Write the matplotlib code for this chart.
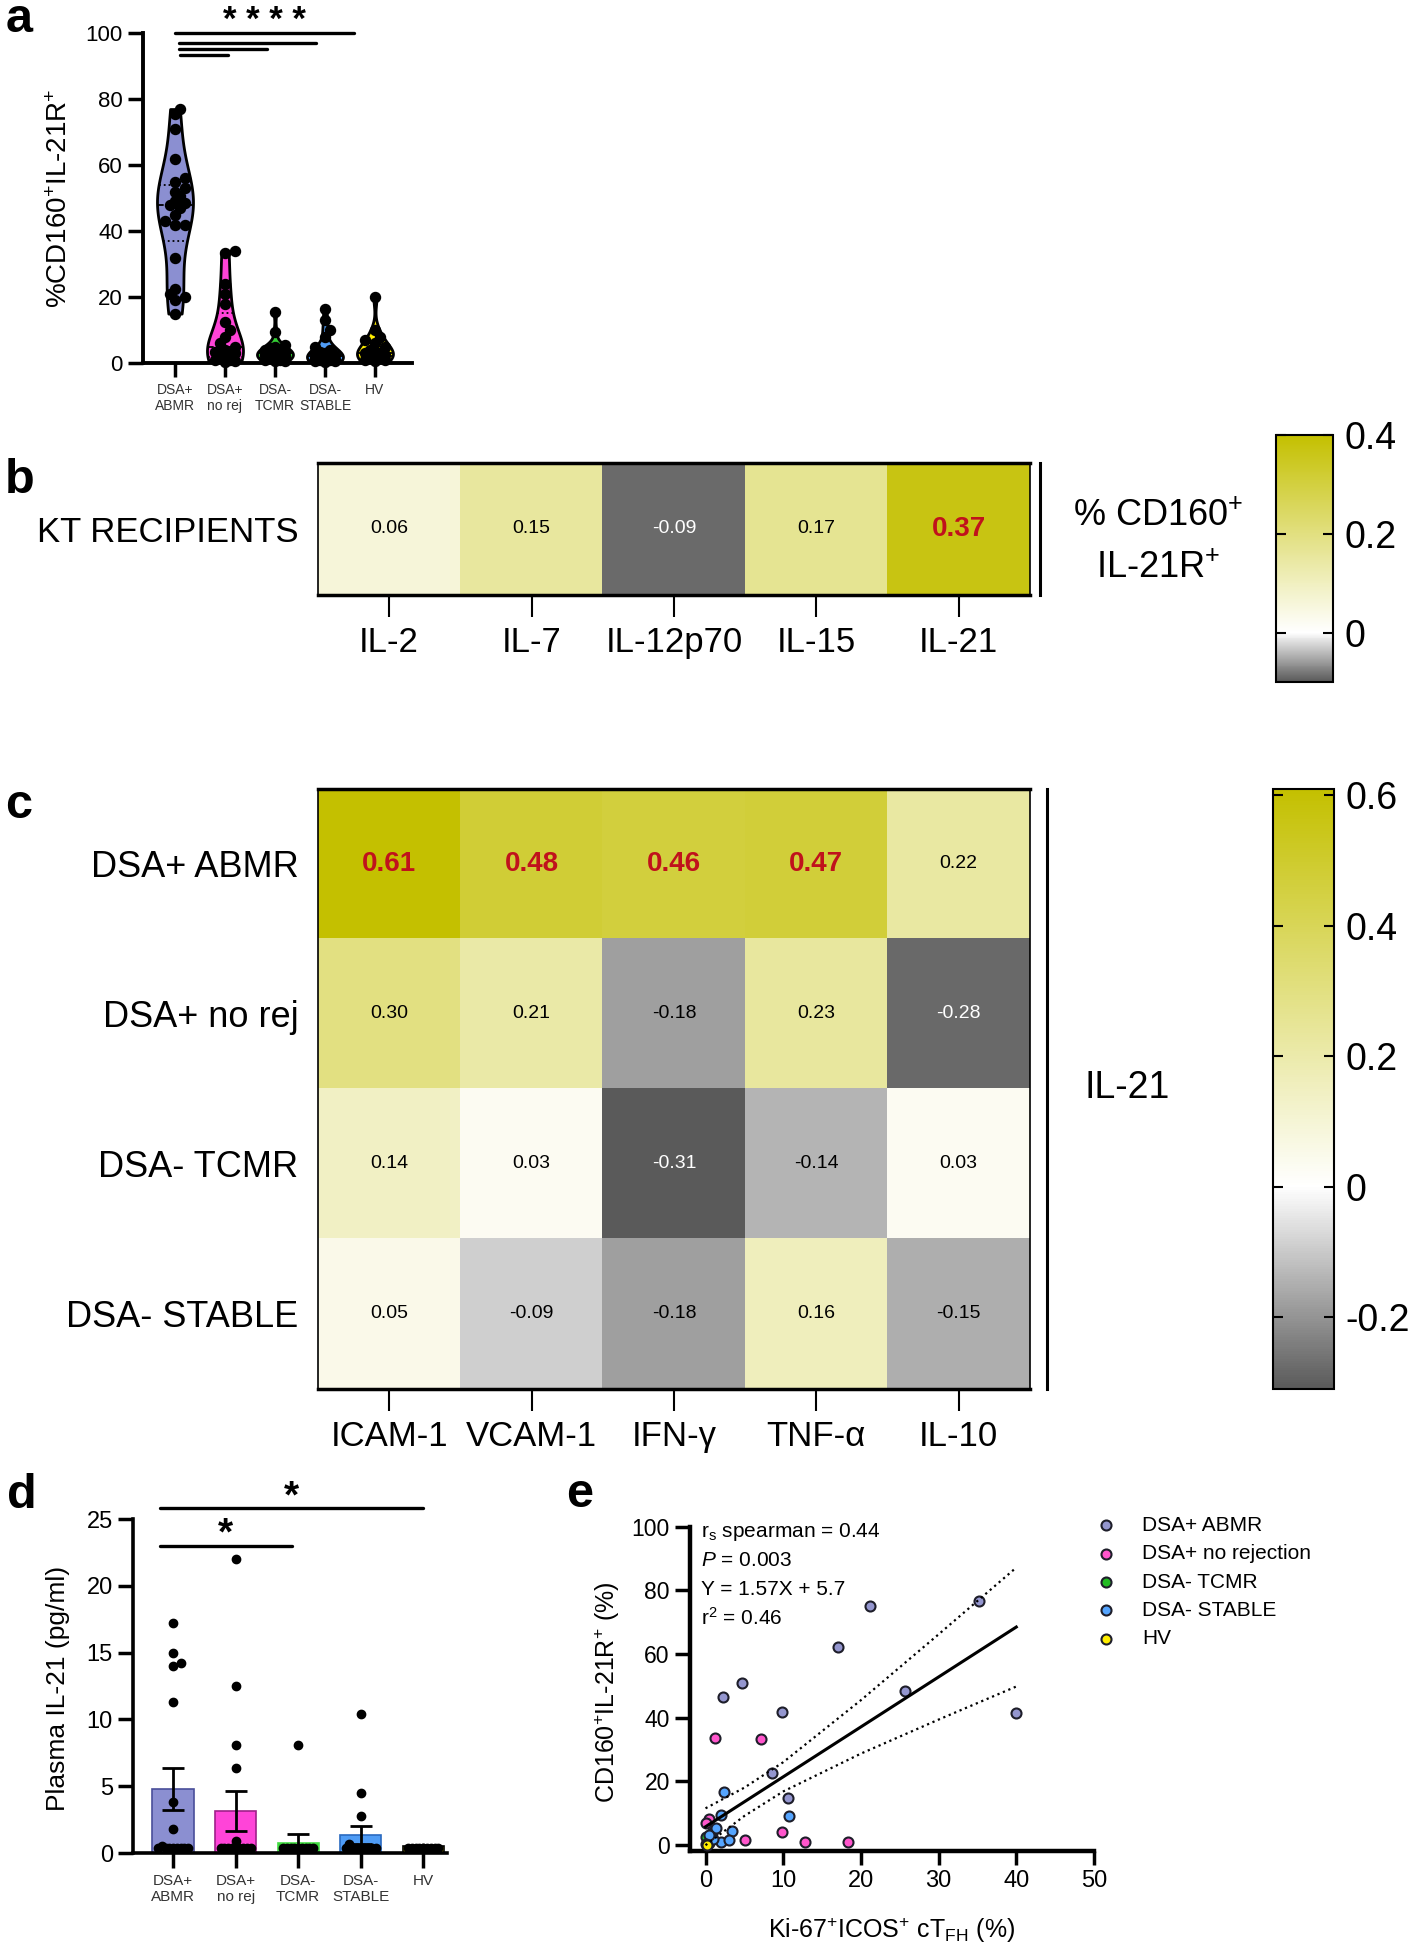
import numpy as np
import matplotlib
matplotlib.use('Agg')
import matplotlib.pyplot as plt
from matplotlib import cbook, mlab
from matplotlib.colors import LinearSegmentedColormap, Normalize

plt.rcParams['font.family'] = ['Liberation Sans', 'DejaVu Sans']
plt.rcParams['mathtext.fontset'] = 'custom'
plt.rcParams['mathtext.rm'] = 'Liberation Sans'
plt.rcParams['mathtext.it'] = 'Liberation Sans:italic'
plt.rcParams['mathtext.bf'] = 'Liberation Sans:bold'

# ---------------- data ----------------
groups = ['DSA+\nABMR', 'DSA+\nno rej', 'DSA-\nTCMR', 'DSA-\nSTABLE', 'HV']
group_colors = ['#8b8fd1', '#ff44d8', '#33cc33', '#4f9cf5', '#ffee00']

# a: %CD160+IL-21R+
a_abmr = [77, 75.5, 71, 62, 56, 55, 53, 52, 50.5, 49, 48.5, 48, 47, 45, 43, 42, 42, 32, 22.5, 21, 20, 19, 15]
a_norej = [34, 33.5, 24, 21, 18, 12.5, 10, 8, 6, 5, 4, 3.5, 3, 2, 1.5, 1, 0.8, 0.5, 0.3]
a_tcmr = [15.5, 9.5, 5.5, 5, 4.5, 4, 4, 3.5, 3.5, 3, 3, 2.5, 2.5, 2, 2, 1.5, 1.5, 1, 1, 0.5, 0.5]
a_stable = [16.5, 13, 10, 8, 5, 4, 3.5, 3, 3, 2.5, 2.5, 2, 2, 1.5, 1.5, 1, 1, 1, 0.8, 0.5, 0.5, 0.3]
a_hv = [20, 10, 8, 7, 6, 5, 4, 3.5, 3, 3, 2.5, 2, 2, 1.5, 1, 1, 0.5]

# b: correlation with %CD160+IL-21R+
b_cytokines = ['IL-2', 'IL-7', 'IL-12p70', 'IL-15', 'IL-21']
b_rho = [0.06, 0.15, -0.09, 0.17, 0.37]

# c: correlation with IL-21
c_rows = ['DSA+ ABMR', 'DSA+ no rej', 'DSA- TCMR', 'DSA- STABLE']
c_cols = ['ICAM-1', 'VCAM-1', 'IFN-γ', 'TNF-α', 'IL-10']
c_abmr = [0.61, 0.48, 0.46, 0.47, 0.22]
c_norej = [0.30, 0.21, -0.18, 0.23, -0.28]
c_tcmr = [0.14, 0.03, -0.31, -0.14, 0.03]
c_stable = [0.05, -0.09, -0.18, 0.16, -0.15]

# d: plasma IL-21
d_mean = [4.8, 3.15, 0.75, 1.35, 0.5]
d_sem = [1.6, 1.5, 0.65, 0.65, 0.05]
d_abmr = [17.2, 15.0, 14.2, 14.0, 11.3, 3.8, 1.8, 0.5, 0.4, 0.4, 0.4, 0.4, 0.4, 0.4, 0.4, 0.4]
d_norej = [22.0, 12.5, 8.1, 6.4, 0.9, 0.4, 0.4, 0.4, 0.4, 0.4, 0.4, 0.4, 0.4, 0.4]
d_tcmr = [8.1, 0.4, 0.4, 0.4, 0.4, 0.4, 0.4, 0.4, 0.4, 0.4]
d_stable = [10.4, 4.5, 2.8, 0.7, 0.4, 0.4, 0.4, 0.4, 0.4, 0.4, 0.4, 0.4]
d_hv = [0.4, 0.4, 0.4, 0.4, 0.4, 0.4, 0.4, 0.4, 0.4, 0.4]

# e: scatter
e_labels = ['DSA+ ABMR', 'DSA+ no rejection', 'DSA- TCMR', 'DSA- STABLE', 'HV']
e_colors = ['#9496cf', '#ff55cc', '#22bb22', '#55a5ff', '#ffee00']
e_abmr_x = [35.2, 21.2, 17.0, 4.7, 2.2, 25.7, 9.9, 39.9, 8.5, 10.6]
e_abmr_y = [76.8, 75.2, 62.1, 50.8, 46.6, 48.4, 41.7, 41.4, 22.5, 14.9]
e_norej_x = [1.2, 7.1, 9.9, 5.1, 12.8, 18.3, 0.5, 0.0]
e_norej_y = [33.5, 33.2, 3.9, 1.4, 0.8, 1.0, 8.1, 6.8]
e_tcmr_x = [0.8, 0.3, 0.5, 0.1]
e_tcmr_y = [3.6, 1.4, 0.5, 2.5]
e_stable_x = [2.4, 2.0, 10.7, 3.4, 1.3, 2.0, 3.0, 1.0, 0.5]
e_stable_y = [16.6, 9.4, 9.1, 4.3, 5.2, 1.0, 1.4, 2.0, 3.0]
e_hv_x = [0.0, 0.2]
e_hv_y = [0.3, 0.1]
fit_slope, fit_intercept = 1.57, 5.7
fit_range = [0, 40]
ci_x = [0, 5, 10, 20, 30, 40]
ci_upper = [11.5, 18.0, 26.0, 45.5, 66.2, 87.2]
ci_lower = [-0.1, 9.1, 16.8, 28.7, 39.4, 49.8]


def swarm(values, dx, dy, maxw, thresh=0.5):
    # simple beeswarm: nearest free slot to the centre, capped to maxw
    values = np.asarray(values, float)
    offs = np.zeros(len(values))
    placed = []
    cands = [0.0]
    k = 1
    while k * dx * 0.5 <= maxw:
        cands += [k * dx * 0.5, -k * dx * 0.5]
        k += 1
    for i in np.argsort(values):
        y = values[i]
        best, best_d = 0.0, -1
        for c in cands:
            d = min([((c - px) / dx) ** 2 + ((y - py) / dy) ** 2 for px, py in placed] or [9])
            if d >= thresh:
                best = c
                break
            if d > best_d:
                best, best_d = c, d
        offs[i] = best
        placed.append((best, y))
    return offs


def kde(X, coords):
    return mlab.GaussianKDE(X, 'scott').evaluate(coords)


def olive_grey(vmin, vmax):
    f = -vmin / (vmax - vmin)
    return LinearSegmentedColormap.from_list('og', [(0, '#5a5a5a'), (f, 'white'), (1, '#c4c000')])


fig = plt.figure(figsize=(14.2, 19.5), dpi=100)

# ---------------- panel a ----------------
ax = fig.add_axes([0.1007, 0.8138, 0.1894, 0.1692])
a_data = [a_abmr, a_norej, a_tcmr, a_stable, a_hv]
for i, vals in enumerate(a_data):
    st = cbook.violin_stats([vals], kde, points=200)
    parts = ax.violin(st, positions=[i], widths=0.72, showextrema=False)
    for body in parts['bodies']:
        body.set_facecolor(group_colors[i])
        body.set_edgecolor('black')
        body.set_linewidth(2)
        body.set_alpha(1)
    coords, dens = st[0]['coords'], st[0]['vals']
    for q, ls in [(25, ':'), (50, '--'), (75, ':')]:
        yq = np.percentile(vals, q)
        hw = np.interp(yq, coords, dens) / dens.max() * 0.36
        ax.plot([i - hw, i + hw], [yq, yq], color='black', ls=ls, lw=1.3)
    offs = swarm(vals, 0.2, 3.0, 0.28)
    ax.scatter(i + offs, vals, s=52, color='black', zorder=3, clip_on=False)

ax.set_xlim(-0.64, 4.74)
ax.set_ylim(0, 100)
ax.set_yticks(range(0, 101, 20))
ax.set_xticks(range(5))
ax.set_xticklabels(groups, fontsize=10, color='#333333')
ax.tick_params(axis='y', labelsize=16, length=11, width=2.5)
ax.tick_params(axis='x', length=10, width=2.5, pad=4)
for s in ['top', 'right']:
    ax.spines[s].set_visible(False)
for s in ['left', 'bottom']:
    ax.spines[s].set_linewidth(2.8)
ax.set_ylabel(r'%CD160$^{+}$IL-21R$^{+}$', fontsize=20, va='center')
ax.yaxis.set_label_coords(-0.31, 0.5)
for (x0, x1, y) in [(0, 3.58, 100), (0.08, 2.82, 97), (0.08, 1.84, 95.2), (0.1, 1.06, 93.3)]:
    ax.plot([x0, x1], [y, y], color='black', lw=2.4, solid_capstyle='round', clip_on=False)
ax.text(1.79, 101.0, '* * * *', fontsize=25, fontweight='bold', ha='center', va='baseline')


# ---------------- heatmaps ----------------
def heatmap(ax, cax, mat, vmin, vmax, xlabels, ylabels, ylab_size, ticks):
    cmap = olive_grey(vmin, vmax)
    norm = Normalize(vmin, vmax)
    im = ax.imshow(mat, cmap=cmap, norm=norm, aspect='auto')
    for r in range(mat.shape[0]):
        for c in range(mat.shape[1]):
            v = mat[r, c]
            if v > 0.35:
                ax.text(c, r, '%.2f' % v, ha='center', va='center', fontsize=20,
                        fontweight='bold', color='#c0121c')
            else:
                col = 'white' if norm(v) < 0.12 else 'black'
                ax.text(c, r, '%.2f' % v, ha='center', va='center', fontsize=14, color=col)
    ax.set_xticks(range(len(xlabels)))
    ax.set_xticklabels(xlabels, fontsize=25)
    ax.set_yticks(range(len(ylabels)))
    ax.set_yticklabels(ylabels, fontsize=ylab_size)
    ax.tick_params(axis='x', length=16, width=1.5, pad=6)
    ax.tick_params(axis='y', length=0, pad=14)
    for s in ['top', 'bottom']:
        ax.spines[s].set_linewidth(2.5)
    for s in ['left', 'right']:
        ax.spines[s].set_linewidth(1.2)
    cb = fig.colorbar(im, cax=cax)
    cb.set_ticks(ticks)
    cb.set_ticklabels([('%g' % t) for t in ticks])
    cax.tick_params(direction='in', length=7, width=1.5, left=True, right=True,
                    labelsize=27, pad=8)
    cb.outline.set_linewidth(1.5)
    return im


ax_b = fig.add_axes([0.2239, 0.6949, 0.5014, 0.0677])
cax_b = fig.add_axes([0.8986, 0.6503, 0.0401, 0.1267])
heatmap(ax_b, cax_b, np.array([b_rho]), -0.1, 0.4, b_cytokines, ['KT RECIPIENTS'], 25, [0, 0.2, 0.4])
ax_b.plot([1.014, 1.014], [0, 1], transform=ax_b.transAxes, color='black', lw=2.2, clip_on=False)
ax_b.text(1.18, 0.40, '% CD160$^{+}$\nIL-21R$^{+}$', transform=ax_b.transAxes, fontsize=26,
          ha='center', va='center', multialignment='center', linespacing=1.6)

ax_c = fig.add_axes([0.2239, 0.2877, 0.5014, 0.3077])
cax_c = fig.add_axes([0.8965, 0.2877, 0.043, 0.3077])
c_mat = np.array([c_abmr, c_norej, c_tcmr, c_stable])
heatmap(ax_c, cax_c, c_mat, c_mat.min(), c_mat.max(), c_cols, c_rows, 26, [-0.2, 0, 0.2, 0.4, 0.6])
ax_c.plot([1.024, 1.024], [0, 1], transform=ax_c.transAxes, color='black', lw=2.2, clip_on=False)
ax_c.text(1.136, 0.502, 'IL-21', transform=ax_c.transAxes, fontsize=27, ha='center', va='center')

# ---------------- panel d ----------------
ax = fig.add_axes([0.0937, 0.0497, 0.2211, 0.1713])
d_data = [d_abmr, d_norej, d_tcmr, d_stable, d_hv]
xs = np.arange(5)
ax.bar(xs, d_mean, width=0.66, color=group_colors, edgecolor=['#4a4f9a', '#a0208a', '#44dd44', '#2a6ac0', '#000000'],
       linewidth=1.2, zorder=1)
for i, vals in enumerate(d_data):
    offs = swarm(vals, 0.12, 0.55, 0.27, thresh=0.6)
    ax.scatter(i + offs, vals, s=36, color='black', zorder=3, clip_on=False)
ax.errorbar(xs[:4], d_mean[:4], yerr=d_sem[:4], fmt='none', ecolor='black', elinewidth=2,
            capsize=8, capthick=2, zorder=4)
ax.set_xlim(-0.64, 4.38)
ax.set_ylim(0, 25)
ax.set_yticks(range(0, 26, 5))
ax.set_xticks(range(5))
ax.set_xticklabels(groups, fontsize=11, color='#333333')
ax.tick_params(axis='y', labelsize=17, length=11, width=2.5)
ax.tick_params(axis='x', length=11, width=2.5, pad=4)
for s in ['top', 'right']:
    ax.spines[s].set_visible(False)
for s in ['left', 'bottom']:
    ax.spines[s].set_linewidth(2.6)
ax.set_ylabel('Plasma IL-21 (pg/ml)', fontsize=19, va='center')
ax.yaxis.set_label_coords(-0.24, 0.494)
for (x0, x1, y) in [(-0.21, 1.9, 23.0), (-0.21, 4.0, 25.8)]:
    ax.plot([x0, x1], [y, y], color='black', lw=2.4, solid_capstyle='round', clip_on=False)
    ax.text((x0 + x1) / 2, y + 0.1, '*', fontsize=28, fontweight='bold', ha='center', va='baseline')

# ---------------- panel e ----------------
ax = fig.add_axes([0.4859, 0.0508, 0.2845, 0.1662])
e_sets = [(e_abmr_x, e_abmr_y), (e_norej_x, e_norej_y), (e_tcmr_x, e_tcmr_y),
          (e_stable_x, e_stable_y), (e_hv_x, e_hv_y)]
handles = []
for (ex, ey), col, lab in zip(e_sets, e_colors, e_labels):
    h = ax.scatter(ex, ey, s=52, color=col, edgecolor='#1e1e2a', linewidth=1.5, zorder=3,
                   clip_on=False, label=lab)
    handles.append(h)
fx = np.array(fit_range, float)
ax.plot(fx, fit_slope * fx + fit_intercept, color='black', lw=2.2, zorder=4)
ax.plot(ci_x, ci_upper, color='black', lw=1.6, ls=':', zorder=4)
ax.plot(ci_x, ci_lower, color='black', lw=1.6, ls=':', zorder=4)
ax.set_xlim(-2, 50)
ax.set_ylim(-1.9, 100)
ax.set_xticks(range(0, 51, 10))
ax.set_yticks(range(0, 101, 20))
ax.tick_params(axis='x', labelsize=17, length=10, width=2.5)
ax.tick_params(axis='y', labelsize=16.5, length=11, width=2.5)
for s in ['top', 'right']:
    ax.spines[s].set_visible(False)
for s in ['left', 'bottom']:
    ax.spines[s].set_linewidth(3.2)
ax.set_ylabel(r'CD160$^{+}$IL-21R$^{+}$ (%)', fontsize=18, va='center')
ax.yaxis.set_label_coords(-0.205, 0.49)
ax.set_xlabel(r'Ki-67$^{+}$ICOS$^{+}$ cT$_{\mathrm{FH}}$ (%)', fontsize=18, va='center')
ax.xaxis.set_label_coords(0.5, -0.244)
stats_lines = [r'r$_{\mathrm{s}}$ spearman = 0.44', r'$\it{P}$ = 0.003', 'Y = 1.57X + 5.7', r'r$^{2}$ = 0.46']
for k, line in enumerate(stats_lines):
    ax.text(-0.6, 98.4 - k * 9.0, line, fontsize=15, ha='left', va='center')
ax.legend(handles=handles, loc='upper left', bbox_to_anchor=(1.005, 1.034), frameon=False,
          fontsize=15, handletextpad=1.2, labelspacing=0.45, borderpad=0, borderaxespad=0,
          handlelength=1, scatterpoints=1)

# panel letters
for letter, x, ybase in [('a', 6, 32), ('b', 5, 493), ('c', 5, 818), ('d', 7, 1508), ('e', 566, 1507)]:
    fig.text(x / 1420, 1 - ybase / 1950, letter, fontsize=35, fontweight='bold', va='baseline')

fig.savefig('out.png', dpi=100)
